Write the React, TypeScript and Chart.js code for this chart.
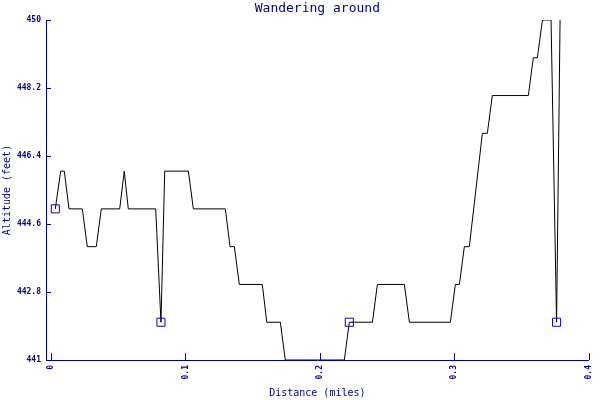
import React, { useEffect, useRef } from "react";
import { Chart, registerables } from "chart.js";

Chart.register(...registerables);

const TITLE = "Wandering around";
const X_TITLE = "Distance (miles)";
const Y_TITLE = "Altitude (feet)";

// Track: distance (miles) and altitude (feet)
const distance = [
  0.0032, 0.0072, 0.0099, 0.0134, 0.0233, 0.027, 0.0337, 0.0374, 0.0511, 0.0545,
  0.0575, 0.0779, 0.0818, 0.0846, 0.1022, 0.1059, 0.1297, 0.1332, 0.1364, 0.1401,
  0.1572, 0.1605, 0.1706, 0.1743, 0.2182, 0.2219, 0.2391, 0.2428, 0.2629, 0.2666,
  0.2971, 0.3008, 0.3038, 0.3075, 0.3112, 0.3209, 0.3246, 0.3283, 0.3551, 0.3588,
  0.3618, 0.3656, 0.372, 0.3761, 0.3787,
];
const altitude = [
  445, 446, 446, 445, 445, 444, 444, 445, 445, 446,
  445, 445, 442, 446, 446, 445, 445, 444, 444, 443,
  443, 442, 442, 441, 441, 442, 442, 443, 443, 442,
  442, 443, 443, 444, 444, 447, 447, 448, 448, 449,
  449, 450, 450, 442, 450,
];
// indices of points that carry a square marker
const markerIndices = [0, 12, 25, 43];

const xTickValues = [0, 0.1, 0.2, 0.3, 0.4];
const xTickLabels = ["0", "0.1", "0.2", "0.3", "0.4"];
const yTickValues = [441, 442.8, 444.6, 446.4, 448.2, 450];
const yTickLabels = ["441", "442.8", "444.6", "446.4", "448.2", "450"];

const AXIS = "#000088";
const MARK = "#0000cc";
const MONO = "'DejaVu Sans Mono', monospace";

const innerTicks = {
  id: "innerTicks",
  afterDraw(chart: any) {
    const { ctx, chartArea, scales } = chart;
    ctx.save();
    ctx.strokeStyle = AXIS;
    ctx.lineWidth = 1;
    ctx.beginPath();
    scales.x.ticks.forEach((t: any) => {
      const px = Math.round(scales.x.getPixelForValue(t.value)) + 0.5;
      ctx.moveTo(px, chartArea.bottom);
      ctx.lineTo(px, chartArea.bottom - 7);
    });
    scales.y.ticks.forEach((t: any) => {
      const py = Math.round(scales.y.getPixelForValue(t.value)) + 0.5;
      ctx.moveTo(chartArea.left, py);
      ctx.lineTo(chartArea.left + 5, py);
    });
    ctx.stroke();
    ctx.restore();
  },
};

export default function App() {
  const ref = useRef<HTMLCanvasElement>(null);
  useEffect(() => {
    if (!ref.current) return;
    const chart = new Chart(ref.current, {
      type: "line",
      data: {
        datasets: [
          {
            data: distance.map((d, i) => ({ x: d, y: altitude[i] })),
            borderColor: "#000000",
            borderWidth: 1,
            tension: 0,
            fill: false,
            pointStyle: "rect",
            pointRadius: (c: any) => (markerIndices.includes(c.dataIndex) ? 5.7 : 0),
            pointBorderColor: MARK,
            pointBackgroundColor: "rgba(0,0,0,0)",
            pointBorderWidth: 1,
          },
        ],
      },
      options: {
        animation: false,
        responsive: true,
        maintainAspectRatio: false,
        layout: { padding: { top: 0, right: 11.3, left: 0, bottom: 0 } },
        plugins: {
          legend: { display: false },
          tooltip: { enabled: false },
          title: {
            display: true,
            text: TITLE,
            fullSize: false,
            color: AXIS,
            font: { family: MONO, size: 13, weight: "normal" },
            padding: { top: 1, bottom: 3.4 },
          },
        },
        scales: {
          x: {
            type: "linear",
            min: -0.00372,
            max: 0.4,
            afterBuildTicks: (s: any) => {
              s.ticks = xTickValues.map((v) => ({ value: v }));
            },
            afterFit: (s: any) => {
              s.height = 40;
              s.paddingLeft = 0;
              s.paddingRight = 0;
            },
            grid: { display: true, drawOnChartArea: false, drawTicks: false },
            border: { display: true, color: AXIS, width: 1 },
            ticks: {
              autoSkip: false,
              minRotation: 90,
              maxRotation: 90,
              padding: 5,
              color: AXIS,
              font: { family: MONO, size: 8, weight: "bold" },
              callback: (v: any) => {
                const i = xTickValues.findIndex((t) => Math.abs(t - v) < 1e-9);
                return i >= 0 ? xTickLabels[i] : "";
              },
            },
            title: {
              display: true,
              text: X_TITLE,
              color: AXIS,
              font: { family: MONO, size: 10, weight: "normal" },
              padding: { top: 0, bottom: 1 },
            },
          },
          y: {
            type: "linear",
            min: 441,
            max: 450,
            afterBuildTicks: (s: any) => {
              s.ticks = yTickValues.map((v) => ({ value: v }));
            },
            afterFit: (s: any) => {
              s.width = 46;
              s.paddingTop = 0;
              s.paddingBottom = 0;
            },
            grid: { display: true, drawOnChartArea: false, drawTicks: false },
            border: { display: true, color: AXIS, width: 1 },
            ticks: {
              padding: 5,
              color: AXIS,
              font: { family: MONO, size: 8, weight: "bold" },
              callback: (v: any) => {
                const i = yTickValues.findIndex((t) => Math.abs(t - v) < 1e-9);
                return i >= 0 ? yTickLabels[i] : "";
              },
            },
            title: {
              display: true,
              text: Y_TITLE,
              color: AXIS,
              font: { family: MONO, size: 10, weight: "normal" },
              padding: { top: 1, bottom: 0 },
            },
          },
        },
      },
      plugins: [innerTicks],
    } as any);
    return () => chart.destroy();
  }, []);
  return (
    <div style={{ position: "fixed", left: 0, top: 0, width: 600, height: 400, background: "#fff" }}>
      <canvas ref={ref} />
    </div>
  );
}
